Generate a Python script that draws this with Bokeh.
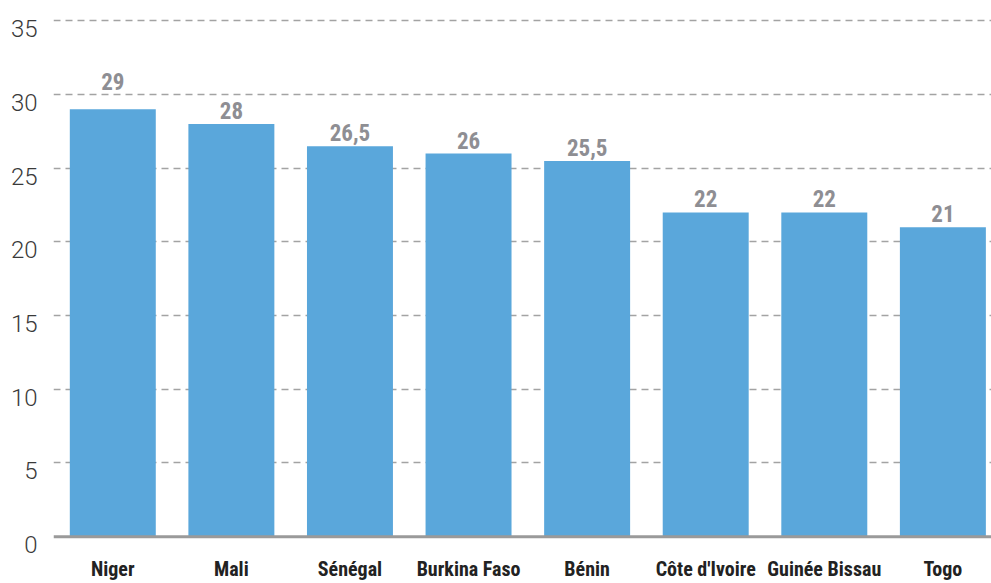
from bokeh.plotting import figure
from bokeh.models import (ColumnDataSource, FixedTicker, Range1d, LinearAxis,
                          Span)
from bokeh.core.properties import value
from bokeh.embed import file_html
from bokeh.resources import INLINE

countries = ["Niger", "Mali", "Sénégal", "Burkina Faso", "Bénin",
             "Côte d'Ivoire", "Guinée Bissau", "Togo"]
values = [29, 28, 26.5, 26, 25.5, 22, 22, 21]
y_ticks = [0, 5, 10, 15, 20, 25, 30, 35]

COND = "Roboto Condensed, Liberation Sans Narrow, DejaVu Sans Condensed, sans-serif"

def fmt(v):
    return ("%g" % v).replace(".", ",")

# a value label that would cross a grid line is lifted just above that line
LABEL_H = 1.6  # label height in data units
def label_anchor(v):
    for t in y_ticks:
        if v < t < v + LABEL_H:
            return t
    return v

xs = list(range(len(countries)))
src = ColumnDataSource(dict(x=xs, top=values,
                            ly=[label_anchor(v) for v in values],
                            lab=[fmt(v) for v in values]))

Y0, Y1 = -0.6, 35.3
SHIFT = 0.54  # tick labels sit slightly below their grid lines

p = figure(width=991, height=583, output_backend="svg", toolbar_location=None,
           x_range=Range1d(-0.5, 7.41), y_range=Range1d(Y0, Y1),
           min_border_left=53, min_border_right=0, min_border_top=16,
           min_border_bottom=37)
p.outline_line_color = None
p.background_fill_color = "white"
p.border_fill_color = "white"

p.vbar(x="x", top="top", width=0.725, bottom=0, source=src,
       fill_color="#5aa7db", line_color=None)

p.text(x="x", y="ly", text="lab", source=src, text_align="center",
       text_baseline="bottom", y_offset=-5,
       text_font=value(COND), text_font_style="bold",
       text_font_size="23px", text_color="#8e8e93")

# grid
p.xgrid.grid_line_color = None
p.ygrid.grid_line_color = "#a3a3a3"
p.ygrid.grid_line_dash = "7 5"
p.ygrid.grid_line_width = 1.5
p.ygrid.ticker = FixedTicker(ticks=y_ticks[1:])

# baseline
p.add_layout(Span(location=0, dimension="width", line_color="#9a9a9a",
                  line_width=3))

# y axis: shifted range so that labels sit a little below grid lines
p.yaxis.visible = False
p.extra_y_ranges = {"lab": Range1d(Y0 + SHIFT, Y1 + SHIFT)}
yax = LinearAxis(y_range_name="lab", ticker=FixedTicker(ticks=y_ticks))
yax.axis_line_color = None
yax.major_tick_line_color = None
yax.minor_tick_line_color = None
yax.major_tick_out = 0
yax.major_tick_in = 0
yax.major_label_standoff = 16
yax.major_label_text_font = "Roboto Light, Roboto"
yax.major_label_text_font_size = "24px"
yax.major_label_text_color = "#3a3a3a"
p.add_layout(yax, "left")

# x axis
p.xaxis.ticker = FixedTicker(ticks=xs)
p.xaxis.major_label_overrides = {i: c for i, c in zip(xs, countries)}
p.xaxis.axis_line_color = None
p.xaxis.major_tick_line_color = None
p.xaxis.minor_tick_line_color = None
p.xaxis.major_tick_out = 0
p.xaxis.major_tick_in = 0
p.xaxis.major_label_standoff = 11
p.xaxis.major_label_text_font = COND
p.xaxis.major_label_text_font_style = "bold"
p.xaxis.major_label_text_font_size = "20px"
p.xaxis.major_label_text_color = "#222222"

open("out.html", "w").write(file_html(p, INLINE))
